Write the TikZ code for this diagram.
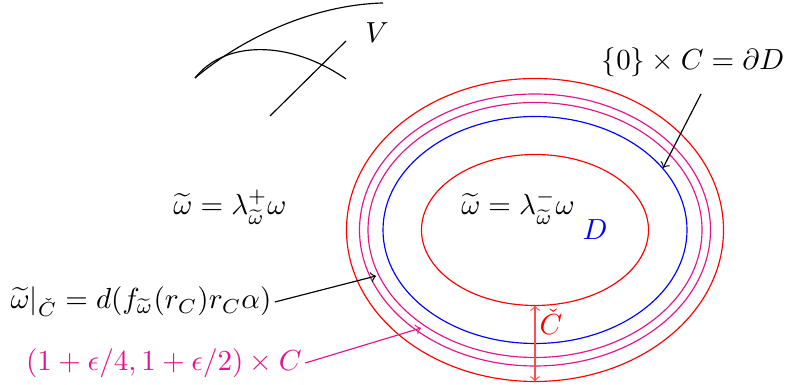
\documentclass[tikz,border=0pt]{standalone}
\usepackage{amsmath, amssymb}
\usepackage{tikz}
\definecolor{ringPink}{RGB}{228, 20, 140}

\begin{document}
\begin{tikzpicture}[x=0.0121cm, y=0.0121cm, lbl/.style={inner sep=1pt}]
        \useasboundingbox (0,0) rectangle (785,385);
        % the chart V
        \draw (195,307) .. controls (240,345) and (310,380) .. (383,382);
        \draw (195,307) .. controls (225,345) and (290,345) .. (346,306);
        \draw (270,269) -- (346,344);
        \node[lbl] (vlab) at (377,352) {$V$};
        % rings
        \coordinate (c) at (535,155);
        \draw[red] (c) ellipse [x radius=188.5, y radius=151.5];
        \draw[ringPink] (c) ellipse [x radius=175.5, y radius=136];
        \draw[ringPink] (c) ellipse [x radius=167, y radius=127.5];
        \draw[blue] (c) ellipse [x radius=152, y radius=113.5];
        \draw[red] (c) ellipse [x radius=113.5, y radius=75.5];
        \node[lbl] (outside) at (230,178) {$\widetilde\omega=\lambda^+_{\widetilde\omega}\omega$};
        \node[lbl] (inside) at (518,178) {$\widetilde\omega=\lambda^-_{\widetilde\omega}\omega$};
        \node[lbl, blue] (dlab) at (595,155) {$D$};
        \node[lbl] (bdlab) at (693,323) {$\{0\}\times C=\partial D$};
        \node[lbl] (restr) at (141,83) {$\widetilde\omega|_{\check C}=d(f_{\widetilde\omega}(r_C)r_C\alpha)$};
        \node[lbl, ringPink] (annlab) at (164,22) {$(1+\epsilon/4,1+\epsilon/2)\times C$};
        \node[lbl, red] (clab) at (551,63) {$\check C$};
        % arrows
        \coordinate (bdtail) at (701,291);
        \coordinate (bdtip) at (663,217);
        \coordinate (restip) at (376,109);
        \coordinate (anntip) at (421,57);
        \coordinate (cin) at (535,79.5);
        \coordinate (cout) at (535,3.5);
        \draw[->] (bdtail) -- (bdtip);
        \draw[->] (restr.east) -- (restip);
        \draw[->, ringPink] (annlab.east) -- (anntip);
        \draw[<->, red!70] (cin) -- (cout);
      \end{tikzpicture}
\end{document}
